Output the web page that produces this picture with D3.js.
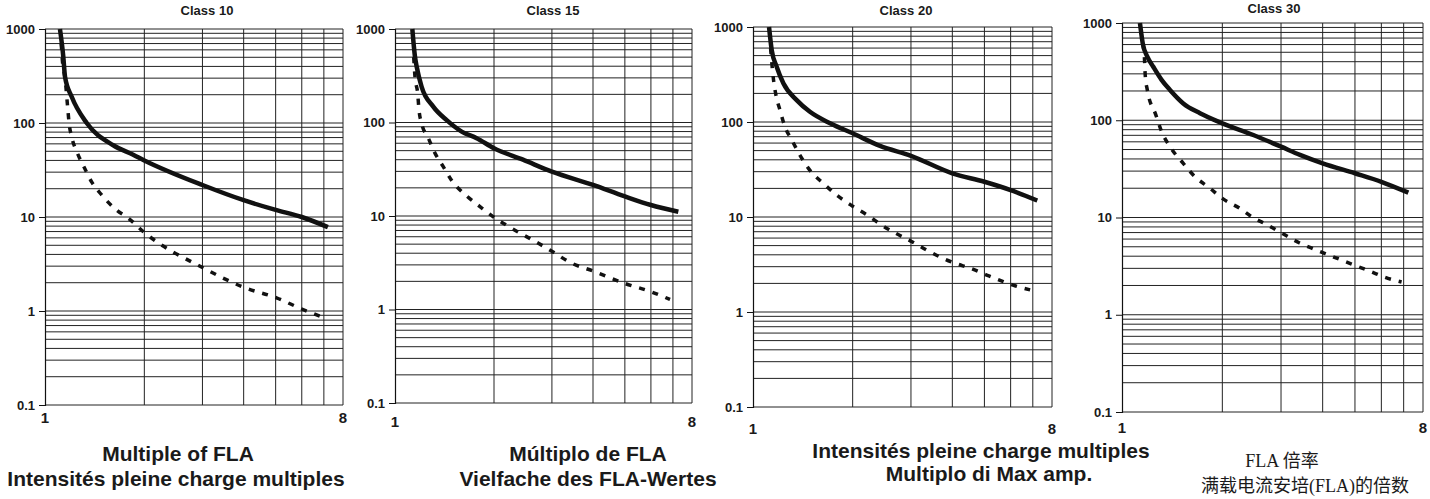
<!DOCTYPE html>
<html>
<head>
<meta charset="utf-8">
<script src="https://cdn.jsdelivr.net/npm/d3@7"></script>
<style>
  body { margin: 0; background: #fff; }
  svg text { font-family: "Liberation Sans", Arial, sans-serif; font-weight: bold; fill: #1a1a1a; }
  svg text.caption-cn { font-family: "Liberation Serif", "Noto Sans CJK SC", serif; font-weight: normal; }
</style>
</head>
<body>
<svg id="chart" width="1430" height="499"></svg>
<script>
// tick labels and titles
var panelTitles = ['Class 10', 'Class 15', 'Class 20', 'Class 30'];
var xTickLabels = [1, 8];
var yTickLabels = [0.1, 1, 10, 100, 1000];

// trip curves, [multiple of FLA, seconds]; cold = solid, hot = dashed
var class10Cold = [[1.11, 1000], [1.136, 510], [1.15, 310], [1.205, 190], [1.338, 100], [1.61, 58], [1.85, 46], [2, 40], [3, 21.9], [4, 15.1], [5, 11.9], [6, 10], [7.2, 7.8]];
var class10Hot = [[1.12, 700], [1.13, 446], [1.15, 300], [1.172, 144], [1.183, 100], [1.205, 71], [1.253, 48], [1.313, 34], [1.386, 23.5], [1.468, 18], [1.65, 11.8], [1.79, 9.7], [1.985, 7], [3, 2.9], [4.05, 1.76], [5.03, 1.38], [6, 1.05], [6.93, 0.86]];

var class15Cold = [[1.129, 1000], [1.15, 506], [1.164, 395], [1.205, 241], [1.307, 148], [1.436, 106], [1.595, 80], [1.771, 68], [2, 53], [2.45, 40], [3, 29.8], [4, 21.5], [5, 16.2], [6, 13.1], [7.27, 11.1]];
var class15Hot = [[1.14, 500], [1.15, 309], [1.172, 205], [1.183, 136], [1.205, 98], [1.263, 68], [1.323, 47], [1.402, 33.7], [1.487, 24], [1.651, 16.4], [1.813, 12.6], [1.99, 9.8], [2.263, 7.4], [2.73, 5.1], [3, 4.2], [3.4, 3.2], [4.05, 2.54], [5, 1.9], [6, 1.55], [6.86, 1.28]];

var class20Cold = [[1.118, 1000], [1.139, 573], [1.179, 382], [1.235, 256], [1.355, 170], [1.486, 128], [1.709, 97], [2, 76], [2.42, 56], [3, 44], [4, 28.8], [5, 23.5], [6, 19.2], [7.22, 14.9]];
var class20Hot = [[1.13, 600], [1.139, 431], [1.152, 288], [1.173, 192], [1.206, 134], [1.249, 89], [1.309, 65], [1.38, 46], [1.486, 31], [1.63, 22.6], [1.79, 17], [2, 13], [2.26, 10], [2.42, 8.4], [2.686, 6.8], [3.02, 5.5], [3.38, 4.4], [3.8, 3.6], [4.08, 3.26], [4.54, 2.88], [5.08, 2.45], [5.7, 2.09], [6.1, 1.92], [6.87, 1.71]];

var class30Cold = [[1.132, 1000], [1.154, 618], [1.191, 451], [1.241, 355], [1.316, 259], [1.393, 205], [1.527, 149], [1.714, 118], [2, 93], [2.477, 70.5], [3, 53.5], [3.42, 44], [4, 36], [5, 28.5], [6, 23.3], [7.23, 18]];
var class30Hot = [[1.152, 618], [1.167, 451], [1.174, 292], [1.191, 205], [1.264, 113], [1.316, 76], [1.393, 53.5], [1.527, 36], [1.655, 26.3], [1.836, 20], [2, 15.7], [2.258, 12.4], [2.47, 10], [2.73, 8.4], [3.04, 6.8], [3.4, 5.5], [3.79, 4.7], [4.11, 4.2], [4.6, 3.6], [5.12, 3.12], [5.74, 2.67], [6.08, 2.46], [6.9, 2.17]];

// axis captions under the panels
var captions = [
  ['Multiple of FLA', 'Intensités pleine charge multiples'],
  ['Múltiplo de FLA', 'Vielfache des FLA-Wertes'],
  ['Intensités pleine charge multiples', 'Multiplo di Max amp.'],
  ['FLA 倍率', '满载电流安培(FLA)的倍数']
];

var curves = [
  { cold: class10Cold, hot: class10Hot },
  { cold: class15Cold, hot: class15Hot },
  { cold: class20Cold, hot: class20Hot },
  { cold: class30Cold, hot: class30Hot }
];

// where each panel sits on the page
var layout = [
  { left: 45, right: 343, top: 29, bottom: 405, titleX: 207, titleY: 15, xLabelY: 423, capX: [178, 176], capY: [461, 486], cn: false },
  { left: 395, right: 692, top: 29, bottom: 403, titleX: 553, titleY: 15, xLabelY: 427, capX: [588, 588], capY: [461, 486], cn: false },
  { left: 753, right: 1052, top: 27, bottom: 407, titleX: 906, titleY: 15, xLabelY: 434, capX: [981, 989], capY: [458, 481], cn: false },
  { left: 1122, right: 1423, top: 23, bottom: 412, titleX: 1274, titleY: 13, xLabelY: 433, capX: [1282, 1305], capY: [467, 492], cn: true }
];

var svg = d3.select('#chart');
var yFormat = function (d) { return d < 1 ? String(d) : d3.format('d')(d); };

layout.forEach(function (box, i) {
  var g = svg.append('g').attr('class', 'panel');

  var x = d3.scaleLog().domain([1, 8]).range([box.left, box.right]);
  var y = d3.scaleLog().domain([0.1, 1000]).range([box.bottom, box.top]);

  // horizontal grid, every 1..9 of each decade
  g.append('g').selectAll('line')
    .data(y.ticks())
    .enter().append('line')
    .attr('x1', box.left).attr('x2', box.right)
    .attr('y1', function (d) { return y(d); })
    .attr('y2', function (d) { return y(d); })
    .attr('stroke', '#222')
    .attr('stroke-width', 1);

  // vertical grid at 2..8
  g.append('g').selectAll('line')
    .data(x.ticks().filter(function (d) { return d > 1; }))
    .enter().append('line')
    .attr('x1', function (d) { return x(d); })
    .attr('x2', function (d) { return x(d); })
    .attr('y1', box.top).attr('y2', box.bottom)
    .attr('stroke', '#222')
    .attr('stroke-width', 1);

  // left axis with outward ticks at the decades
  var yAxis = d3.axisLeft(y).tickValues(yTickLabels).tickFormat(yFormat).tickSize(6).tickPadding(4);
  var axisG = g.append('g')
    .attr('transform', 'translate(' + box.left + ',0)')
    .call(yAxis);
  axisG.select('.domain').attr('stroke', '#111').attr('stroke-width', 1.2);
  axisG.selectAll('.tick line').attr('stroke', '#111');
  axisG.selectAll('.tick text')
    .attr('font-size', 13)
    .style('font-family', '"Liberation Sans", Arial, sans-serif')
    .style('font-weight', 'bold')
    .attr('fill', '#1a1a1a');

  // x labels, only 1 and 8
  g.append('g').selectAll('text')
    .data(xTickLabels)
    .enter().append('text')
    .attr('x', function (d) { return x(d); })
    .attr('y', box.xLabelY)
    .attr('text-anchor', 'middle')
    .attr('font-size', 15)
    .text(function (d) { return d; });

  // panel title
  g.append('text')
    .attr('x', box.titleX)
    .attr('y', box.titleY)
    .attr('text-anchor', 'middle')
    .attr('font-size', 13)
    .text(panelTitles[i]);

  var line = d3.line()
    .x(function (d) { return x(d[0]); })
    .y(function (d) { return y(d[1]); })
    .curve(d3.curveMonotoneX);

  g.append('path')
    .datum(curves[i].hot)
    .attr('d', line)
    .attr('fill', 'none')
    .attr('stroke', '#111')
    .attr('stroke-width', 3.5)
    .attr('stroke-dasharray', '6,8');

  g.append('path')
    .datum(curves[i].cold)
    .attr('d', line)
    .attr('fill', 'none')
    .attr('stroke', '#111')
    .attr('stroke-width', 4.5)
    .attr('stroke-linejoin', 'round');

  // captions
  captions[i].forEach(function (txt, k) {
    g.append('text')
      .attr('class', box.cn ? 'caption-cn' : null)
      .attr('x', box.capX[k])
      .attr('y', box.capY[k])
      .attr('text-anchor', 'middle')
      .attr('font-size', box.cn ? 18 : 21)
      .text(txt);
  });
});
</script>
</body>
</html>
